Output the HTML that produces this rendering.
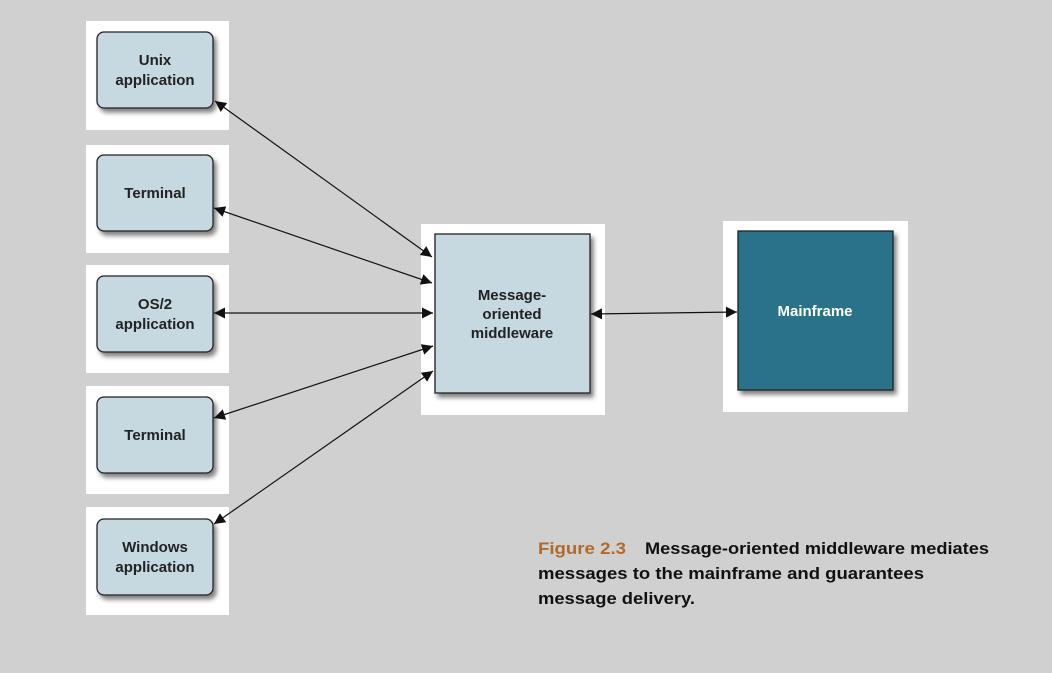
<!DOCTYPE html>
<html><head><meta charset="utf-8"><style>html,body{margin:0;padding:0;background:#d0d0d0;overflow:hidden}</style></head>
<body>
<svg width="1052" height="673" viewBox="0 0 1052 673" xmlns="http://www.w3.org/2000/svg" font-family="Liberation Sans, sans-serif" style="display:block">
<defs>
<filter id="sh" x="-20%" y="-20%" width="150%" height="150%"><feGaussianBlur in="SourceAlpha" stdDeviation="2.5"/><feOffset dx="3" dy="4"/><feComponentTransfer><feFuncA type="linear" slope="0.5"/></feComponentTransfer><feMerge><feMergeNode/><feMergeNode in="SourceGraphic"/></feMerge></filter>
<marker id="a" viewBox="0 0 10 10" refX="10" refY="5" markerWidth="16" markerHeight="11" markerUnits="userSpaceOnUse" orient="auto-start-reverse"><path d="M0,0L10,5L0,10z" fill="#111"/></marker>
</defs>
<rect width="1052" height="673" fill="#d0d0d0"/>
<g fill="#fff">
<rect x="86" y="21" width="143" height="109"/>
<rect x="86" y="145" width="143" height="108"/>
<rect x="86" y="265" width="143" height="108"/>
<rect x="86" y="386" width="143" height="108"/>
<rect x="86" y="507" width="143" height="108"/>
<rect x="421" y="224" width="184" height="191"/>
<rect x="723" y="221" width="185" height="191"/>
</g>
<g fill="#c6d8e0" stroke="#222" stroke-width="1.3" filter="url(#sh)">
<rect x="97" y="32" width="116" height="76" rx="7"/>
<rect x="97" y="155" width="116" height="76" rx="7"/>
<rect x="97" y="276" width="116" height="76" rx="7"/>
<rect x="97" y="397" width="116" height="76" rx="7"/>
<rect x="97" y="519" width="116" height="76" rx="7"/>
<rect x="435" y="234" width="155" height="159"/>
<rect x="738" y="231" width="155" height="159" fill="#29728a"/>
</g>
<g font-size="15" font-weight="bold" fill="#222" text-anchor="middle">
<text x="155" y="65">Unix</text><text x="155" y="85">application</text>
<text x="155" y="198">Terminal</text>
<text x="155" y="309">OS/2</text><text x="155" y="329">application</text>
<text x="155" y="440">Terminal</text>
<text x="155" y="552">Windows</text><text x="155" y="572">application</text>
<text x="512" y="300">Message-</text><text x="512" y="319">oriented</text><text x="512" y="338">middleware</text>
<text x="815" y="316" fill="#fff">Mainframe</text>
</g>
<g stroke="#111" stroke-width="1.2" marker-start="url(#a)" marker-end="url(#a)">
<line x1="215" y1="101" x2="432" y2="257"/>
<line x1="214" y1="208" x2="432" y2="283"/>
<line x1="214" y1="313" x2="433" y2="313"/>
<line x1="214" y1="418" x2="433" y2="346"/>
<line x1="214" y1="524" x2="433" y2="371"/>
<line x1="591" y1="314" x2="737" y2="312"/>
</g>
<g font-size="17" font-weight="bold" fill="#111">
<text x="538" y="554" fill="#b06a2c" textLength="88" lengthAdjust="spacingAndGlyphs">Figure 2.3</text>
<text x="645" y="554" textLength="344" lengthAdjust="spacingAndGlyphs">Message-oriented middleware mediates</text>
<text x="538" y="579" textLength="386" lengthAdjust="spacingAndGlyphs">messages to the mainframe and guarantees</text>
<text x="538" y="604" textLength="157" lengthAdjust="spacingAndGlyphs">message delivery.</text>
</g>
</svg>
</body></html>
